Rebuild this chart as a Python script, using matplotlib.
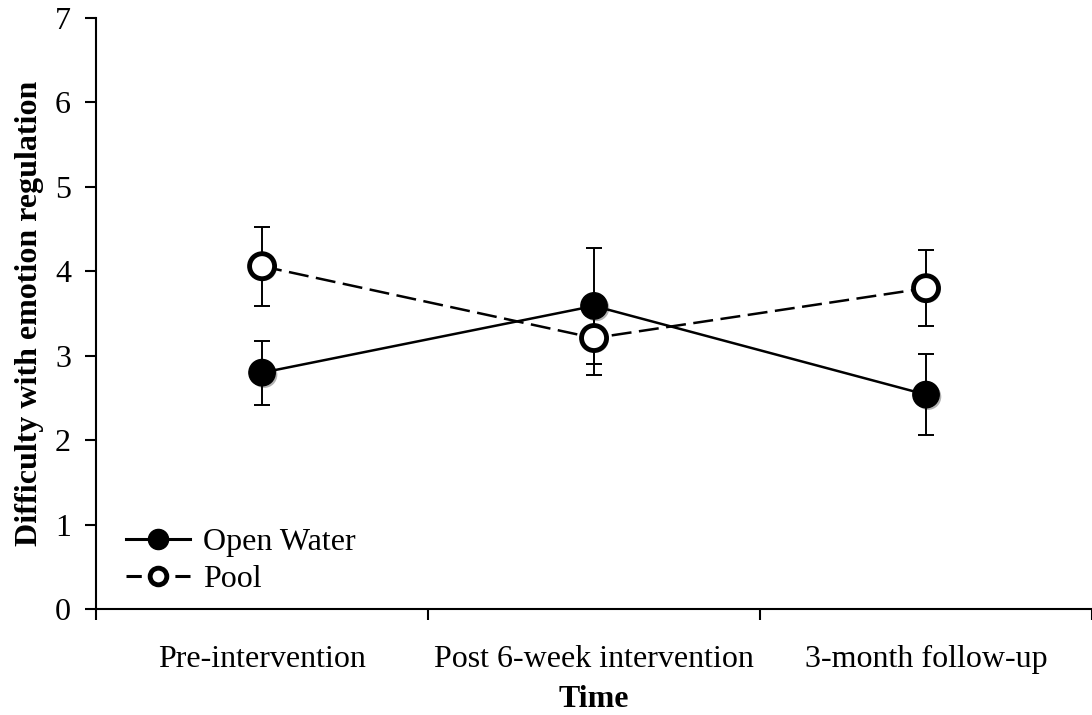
import matplotlib
matplotlib.use('Agg')
import matplotlib.pyplot as plt
import matplotlib.patheffects as pe
from matplotlib.lines import Line2D
from matplotlib.ticker import FixedLocator

# data
categories = ['Pre-intervention', 'Post 6-week intervention', '3-month follow-up']
open_water = [2.80, 3.59, 2.54]
open_water_err = [0.38, 0.69, 0.48]
pool = [4.06, 3.21, 3.80]
pool_err = [0.47, 0.44, 0.45]

plt.rcParams['font.family'] = 'Liberation Serif'
fs = 23

fig = plt.figure(figsize=(10.92, 7.15), dpi=100)
ax = fig.add_axes([0.088, 0.148, 0.912, 0.827])

x = list(range(len(categories)))
shadow = [pe.SimplePatchShadow(offset=(1.5, -1.5), alpha=0.3), pe.Normal()]

ow_style = dict(marker='o', markersize=19, markerfacecolor='black', markeredgecolor='black')
pool_style = dict(marker='o', markersize=18, markerfacecolor='white', markeredgecolor='black',
                  markeredgewidth=3.5)

# error bars
ax.errorbar(x, open_water, yerr=open_water_err, fmt='none', ecolor='black',
            elinewidth=1.4, capsize=6, capthick=1.4, zorder=2)
ax.errorbar(x, pool, yerr=pool_err, fmt='none', ecolor='black',
            elinewidth=1.4, capsize=6, capthick=1.4, zorder=2)

# connecting lines
ax.plot(x, open_water, color='black', linestyle='-', linewidth=1.8, zorder=3)
ax.plot(x, pool, color='black', linestyle=(0, (8, 3)), linewidth=1.8, zorder=3)

# markers
m1, = ax.plot(x, open_water, linestyle='none', zorder=4, **ow_style)
m2, = ax.plot(x, pool, linestyle='none', zorder=5, **pool_style)
m1.set_path_effects(shadow)
m2.set_path_effects(shadow)

ax.set_xlim(-0.5, 2.5)
ax.set_ylim(0, 7)
ax.set_yticks(range(0, 8))
ax.xaxis.set_major_locator(FixedLocator([-0.5, 0.5, 1.5, 2.5]))
ax.xaxis.set_major_formatter(plt.NullFormatter())
ax.xaxis.set_minor_locator(FixedLocator(x))
ax.set_xticklabels(categories, minor=True)
ax.tick_params(axis='x', which='minor', length=0, pad=26, labelsize=fs)
ax.tick_params(axis='x', which='major', length=8, width=1.5, direction='out')
ax.tick_params(axis='y', length=8, width=1.5, direction='out', labelsize=fs, pad=10)

for s in ['top', 'right']:
    ax.spines[s].set_visible(False)
for s in ['left', 'bottom']:
    ax.spines[s].set_linewidth(1.5)

ax.set_xlabel('Time', fontsize=fs, fontweight='bold', labelpad=8)
ax.set_ylabel('Difficulty with emotion regulation', fontsize=fs, fontweight='bold', labelpad=8)

handles = [
    Line2D([], [], color='black', linestyle='-', linewidth=2.2, markersize=14.5,
           marker='o', markerfacecolor='black', markeredgecolor='black'),
    Line2D([], [], color='black', linestyle=(0, (5, 3)), linewidth=2.2, markersize=12,
           marker='o', markerfacecolor='white', markeredgecolor='black', markeredgewidth=3.5),
]
ax.legend(handles, ['Open Water', 'Pool'], loc='lower left', bbox_to_anchor=(0.03, 0.025),
          frameon=False, fontsize=fs, handlelength=2.0, handletextpad=0.4,
          labelspacing=0.25, borderpad=0, borderaxespad=0)

fig.savefig('out.png', dpi=100)
